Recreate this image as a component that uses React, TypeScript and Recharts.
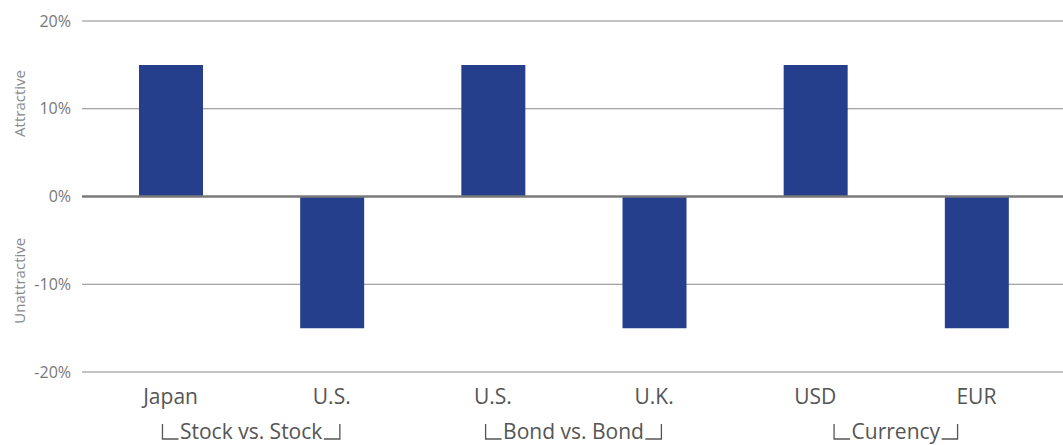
import React, { useLayoutEffect, useRef, useState } from "react";
import { BarChart, Bar, XAxis, YAxis, CartesianGrid, ReferenceLine, Label } from "recharts";

const categories = ["Japan", "U.S.", "U.S.", "U.K.", "USD", "EUR"];
const groups = ["Stock vs. Stock", "Stock vs. Stock", "Bond vs. Bond", "Bond vs. Bond", "Currency", "Currency"];
const values = [15, -15, 15, -15, 15, -15];
const yTicks = [-20, -10, 0, 10, 20];

const data = categories.map((c, i) => ({ id: `${i}`, name: c, group: groups[i], value: values[i] }));

const FONT = "'Open Sans', 'Noto Sans', sans-serif";

function CatTick(props: any) {
  const { x, y, payload } = props;
  const idx = Number(payload.value);
  return (
    <text x={x} y={y} dy="0.71em" textAnchor="middle" fontFamily={FONT} fontWeight={400} fontSize={21} fill="#555">
      {categories[idx]}
    </text>
  );
}

function GroupTick(props: any) {
  const { x, y, payload } = props;
  const ref = useRef<SVGTextElement>(null);
  const [w, setW] = useState(140);
  useLayoutEffect(() => {
    if (ref.current) setW(ref.current.getComputedTextLength());
  }, [payload.value]);
  const base = y + 37;
  const left = x - w / 2;
  const right = x + w / 2;
  const arm = 16;
  const gap = 1.5;
  const h = 15;
  return (
    <g>
      <text ref={ref} x={x} y={base} textAnchor="middle" fontFamily={FONT} fontWeight={400} fontSize={21} fill="#555">
        {payload.value}
      </text>
      <path
        d={`M${left - gap - arm},${base - h} L${left - gap - arm},${base} L${left - gap},${base} M${right + gap},${base} L${right + gap + arm},${base} L${right + gap + arm},${base - h}`}
        stroke="#555"
        strokeWidth={1.3}
        fill="none"
      />
    </g>
  );
}

function YSideLabels(props: any) {
  const vb = props.viewBox || { x: 0, y: 21, width: 82, height: 351 };
  const cx = vb.x + 19;
  const y1 = vb.y + vb.height * 0.235;
  const y2 = vb.y + vb.height * 0.74;
  return (
    <g>
      <text x={cx} y={y1} transform={`rotate(-90 ${cx} ${y1})`} textAnchor="middle" dominantBaseline="central" fontFamily={FONT} fontWeight={400} fontSize={15} fill="#888">
        Attractive
      </text>
      <text x={cx} y={y2} transform={`rotate(-90 ${cx} ${y2})`} textAnchor="middle" dominantBaseline="central" fontFamily={FONT} fontWeight={400} fontSize={15} fill="#888">
        Unattractive
      </text>
    </g>
  );
}

export default function App() {
  return (
    <div style={{ position: "absolute", left: 0, top: 0, background: "#fff" }}>
      <BarChart width={1063} height={445} data={data} margin={{ top: 21, right: 0, bottom: 0, left: 0 }}>
        <CartesianGrid vertical={false} stroke="#888" strokeWidth={1} />
        <XAxis
          xAxisId={0}
          dataKey="id"
          axisLine={false}
          tickLine={false}
          tickSize={6}
          tickMargin={11}
          height={30}
          padding={{ left: 8, right: 6 }}
          interval={0}
          tick={<CatTick />}
        />
        <XAxis
          xAxisId="grp"
          dataKey="group"
          allowDuplicatedCategory={false}
          axisLine={false}
          tickLine={false}
          tickSize={0}
          tickMargin={0}
          height={43}
          padding={{ left: 8, right: 6 }}
          interval={0}
          tick={<GroupTick />}
        />
        <YAxis
          width={82}
          domain={[-20, 20]}
          ticks={yTicks}
          axisLine={false}
          tickLine={false}
          tickSize={6}
          tickMargin={5}
          tickFormatter={(v: number) => `${v}%`}
          tick={{ fontFamily: FONT, fontWeight: 400, fontSize: 16, fill: "#777" }}
        >
          <Label content={<YSideLabels />} />
        </YAxis>
        <Bar dataKey="value" xAxisId={0} fill="#253F8C" barSize={64} isAnimationActive={false} />
        <ReferenceLine y={0} xAxisId={0} stroke="#7a7a7a" strokeWidth={2.5} />
      </BarChart>
    </div>
  );
}
